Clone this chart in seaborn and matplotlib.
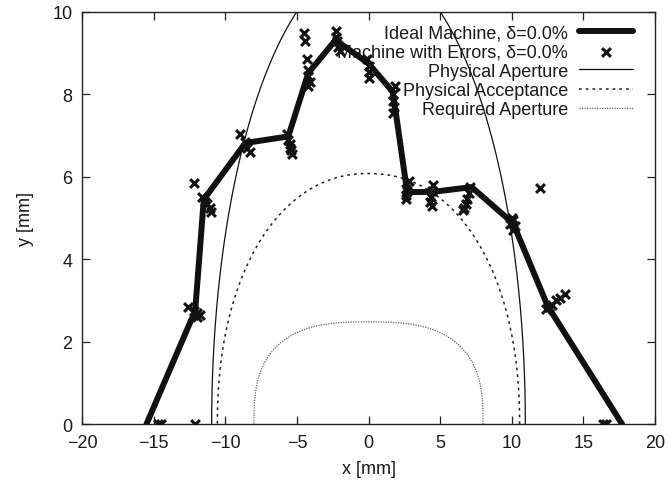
import numpy as np
import pandas as pd
import matplotlib
matplotlib.use("Agg")
import matplotlib.pyplot as plt
import seaborn as sns

# ---- data ----
ideal_x = [-15.5, -12.1, -11.5, -8.6, -5.6, -4.2, -2.3, 0.0, 1.7, 2.7, 4.4, 7.2, 10.1, 12.5, 17.7]
ideal_y = [0.0, 2.75, 5.45, 6.82, 6.98, 8.52, 9.32, 8.75, 8.06, 5.63, 5.63, 5.75, 4.87, 2.87, 0.0]

err_x = [-14.7, -14.5, -12.1,
         -12.6, -12.2, -11.95, -11.75, -12.0,
         -12.2, -11.6, -11.4, -11.25, -11.1, -11.0,
         -9.0, -8.6, -8.45, -8.3,
         -5.7, -5.6, -5.5, -5.45, -5.4, -5.35,
         -4.5, -4.45, -4.3, -4.2, -4.2, -4.1, -4.2,
         -2.3, -2.3, -2.2, -2.1, -2.0,
         -0.1, 0.0, 0.0, 0.05,
         1.85, 1.7, 1.7, 1.75, 1.7,
         2.8, 2.6, 2.6, 2.6, 2.7,
         4.5, 4.4, 4.35, 4.3, 4.4,
         7.1, 7.0, 6.9, 6.8, 6.7, 6.6,
         10.1, 9.9, 10.2, 10.0, 10.1,
         12.4, 12.6, 12.8, 13.1, 13.4, 13.7,
         11.95, 16.4, 16.6]
err_y = [0.0, 0.0, 0.0,
         2.85, 2.75, 2.7, 2.65, 2.6,
         5.85, 5.5, 5.4, 5.35, 5.25, 5.15,
         7.05, 6.85, 6.7, 6.6,
         7.05, 6.9, 6.8, 6.7, 6.65, 6.55,
         9.5, 9.3, 8.85, 8.6, 8.45, 8.3, 8.2,
         9.55, 9.4, 9.3, 9.15, 9.05,
         8.85, 8.7, 8.55, 8.4,
         8.2, 8.0, 7.85, 7.7, 7.55,
         5.9, 5.7, 5.55, 5.45, 5.65,
         5.8, 5.65, 5.5, 5.4, 5.3,
         5.75, 5.6, 5.45, 5.35, 5.25, 5.2,
         4.95, 4.85, 4.8, 5.0, 4.7,
         2.8, 2.85, 2.9, 3.0, 3.05, 3.15,
         5.72, 0.0, 0.0]

# aperture boundaries: half-width, half-height, shape exponent
aperture_names = ["Physical Aperture", "Physical Acceptance", "Required Aperture"]
aperture_a = [10.95, 10.55, 8.0]
aperture_b = [11.25, 6.08, 2.48]
aperture_n = [2.0, 2.15, 2.8]

x_ticks = [-20, -15, -10, -5, 0, 5, 10, 15, 20]
y_ticks = [0, 2, 4, 6, 8, 10]

# ---- styling ----
sns.set_style("ticks")
plt.rcParams['font.family'] = ['Liberation Sans', 'DejaVu Sans']
plt.rcParams['axes.edgecolor'] = '#222222'

fig = plt.figure(figsize=(6.68, 4.81), dpi=100)
ax = fig.add_axes([0.1228, 0.1164, 0.8577, 0.8566])

# aperture curves
styles = [dict(color='#111111', lw=0.9, ls='-'),
          dict(color='#222222', lw=1.1, ls=(0, (1.8, 2.6))),
          dict(color='#666666', lw=0.9, ls=(0, (1, 1)))]
t = np.linspace(0, np.pi, 600)
for name, a, b, n, st in zip(aperture_names, aperture_a, aperture_b, aperture_n, styles):
    c = np.cos(t); s = np.sin(t)
    cx = a * np.sign(c) * np.abs(c) ** (2.0 / n)
    cy = b * np.abs(s) ** (2.0 / n)
    df_ap = pd.DataFrame({"x": cx, "y": cy})
    sns.lineplot(data=df_ap, x="x", y="y", sort=False, estimator=None, ax=ax,
                 color=st['color'], lw=st['lw'], linestyle=st['ls'], label=name)

df_ideal = pd.DataFrame({"x": ideal_x, "y": ideal_y})
sns.lineplot(data=df_ideal, x="x", y="y", sort=False, estimator=None, ax=ax,
             color='#111111', lw=4.3, label="Ideal Machine, δ=0.0%", zorder=4)

df_err = pd.DataFrame({"x": err_x, "y": err_y})
sns.scatterplot(data=df_err, x="x", y="y", ax=ax, marker='x', color='#111111',
                s=40, linewidth=2.2, label="Machine with Errors, δ=0.0%", zorder=5)

ax.set_xlim(-20, 20)
ax.set_ylim(0, 10)
ax.set_xticks(x_ticks)
ax.set_yticks(y_ticks)
ax.tick_params(direction='in', length=6, width=0.9, top=True, right=True,
               labelsize=13, pad=7, colors='#222222', labelcolor='#1a1a1a')
for sp in ax.spines.values():
    sp.set_linewidth(1.0)
ax.set_xlabel("x [mm]", fontsize=13, labelpad=7, color='#1a1a1a')
ax.set_ylabel("y [mm]", fontsize=13, labelpad=13, color='#1a1a1a')

handles, labels = ax.get_legend_handles_labels()
order = [labels.index("Ideal Machine, δ=0.0%"), labels.index("Machine with Errors, δ=0.0%"),
         labels.index("Physical Aperture"), labels.index("Physical Acceptance"),
         labels.index("Required Aperture")]
leg = ax.legend([handles[i] for i in order], [labels[i] for i in order],
                loc='upper right', bbox_to_anchor=(0.962, 0.97),
                markerfirst=False, frameon=False, fontsize=13,
                handlelength=3.0, handletextpad=0.6, labelspacing=0.12,
                borderaxespad=0.0, borderpad=0.0)
for txt in leg.get_texts():
    txt.set_color('#1a1a1a')

fig.savefig("out.png", dpi=100)
